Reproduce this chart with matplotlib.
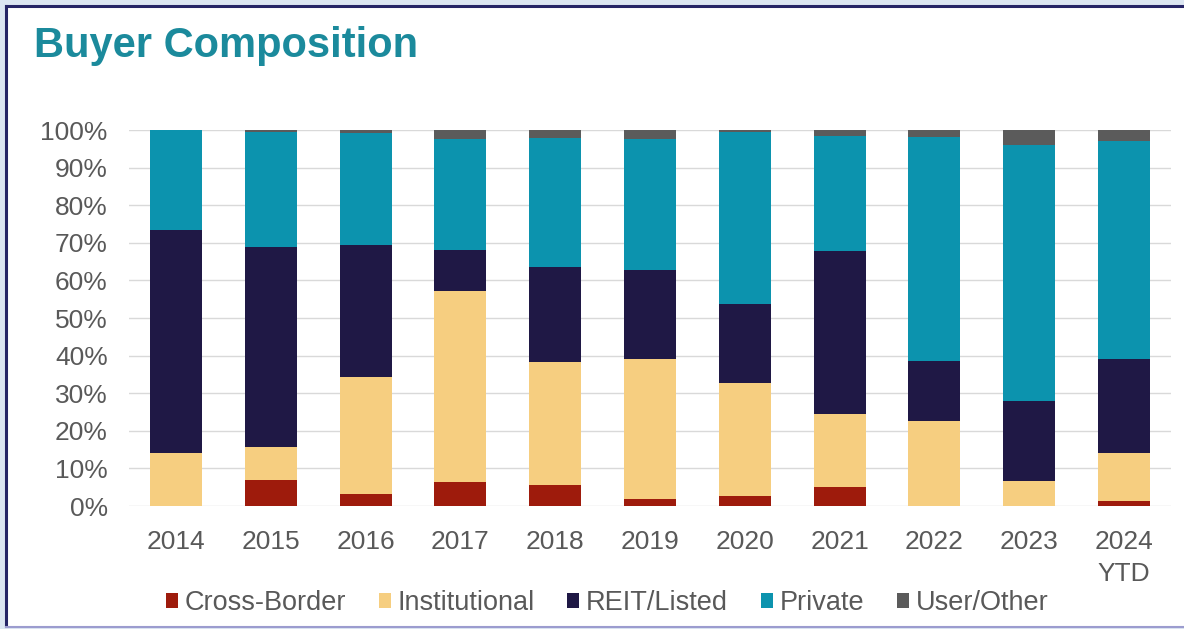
import numpy as np
import matplotlib
matplotlib.use("Agg")
import matplotlib.pyplot as plt
from matplotlib.patches import Patch, Rectangle
from matplotlib.lines import Line2D
from matplotlib.ticker import PercentFormatter

plt.rcParams['font.family'] = ['Liberation Sans', 'DejaVu Sans']

# share of deal volume by buyer type (%)
years = ['2014', '2015', '2016', '2017', '2018', '2019', '2020', '2021', '2022', '2023', '2024\nYTD']
cross_border = [0.0, 6.9, 3.2, 6.3, 5.6, 1.8, 2.7, 5.1, 0.0, 0.0, 1.4]
institutional = [14.0, 8.9, 31.0, 50.9, 32.8, 37.2, 29.9, 19.3, 22.6, 6.7, 12.8]
reit_listed = [59.4, 53.2, 35.3, 10.9, 25.1, 23.8, 21.1, 43.4, 16.0, 21.2, 25.0]
private = [26.6, 30.4, 29.6, 29.4, 34.3, 34.8, 45.9, 30.6, 59.6, 68.1, 58.0]
user_other = [0.0, 0.6, 0.9, 2.5, 2.2, 2.4, 0.4, 1.6, 1.8, 4.0, 2.8]

series = [
    ('Cross-Border', cross_border, '#9E1B0C'),
    ('Institutional', institutional, '#F6CE80'),
    ('REIT/Listed', reit_listed, '#1F1845'),
    ('Private', private, '#0C93AE'),
    ('User/Other', user_other, '#5B5B5B'),
]

W, H = 1184, 629
fig = plt.figure(figsize=(W / 100, H / 100), dpi=100, facecolor='#DCE6F2')

# white card with a navy frame
fig.patches.append(Rectangle((6 / W, 1 - 626 / H), 1.2, (626 - 6) / H,
                             transform=fig.transFigure, facecolor='white',
                             edgecolor='none', zorder=-10))
fig.add_artist(Line2D([6 / W, 1], [1 - 6 / H] * 2, color='#262566', lw=2.2,
                      transform=fig.transFigure))
fig.add_artist(Line2D([6 / W] * 2, [1 - 6 / H, 1 - 626 / H], color='#262566', lw=2.2,
                      transform=fig.transFigure))
fig.add_artist(Line2D([6 / W, 1], [1 - 627 / H] * 2, color='#9C9CCF', lw=1.5,
                      transform=fig.transFigure))

ax = fig.add_axes([128.6 / W, 1 - 506 / H, (1171.4 - 128.6) / W, (506 - 130) / H])
ax.set_facecolor('white')

x = np.arange(len(years))
bottom = np.zeros(len(years))
for name, vals, col in series:
    ax.bar(x, vals, width=0.55, bottom=bottom, color=col, label=name, zorder=3)
    bottom += np.array(vals)

ax.set_xlim(-0.5, len(years) - 0.5)
ax.set_ylim(0, 100)
ax.set_yticks(np.arange(0, 101, 10))
ax.yaxis.set_major_formatter(PercentFormatter(decimals=0))
ax.set_xticks(x)
ax.set_xticklabels(years, linespacing=1.45)
ax.grid(axis='y', color='#D9D9D9', lw=1, zorder=0)
for s in ax.spines.values():
    s.set_visible(False)
ax.tick_params(axis='both', length=0, labelsize=19, labelcolor='#595959')
ax.tick_params(axis='y', pad=15)
ax.tick_params(axis='x', pad=17)

fig.text(34 / W, 1 - 57 / H, 'Buyer Composition', fontsize=30, fontweight='bold',
         color='#1B8A9C', ha='left', va='baseline')

handles = [Patch(facecolor=c, edgecolor='none', label=n) for n, _, c in series]
fig.legend(handles=handles, loc='center', bbox_to_anchor=(607 / W, 1 - 603 / H),
           ncol=5, frameon=False, fontsize=19.5, labelcolor='#595959',
           handlelength=0.45, handleheight=0.45, handletextpad=0.25,
           columnspacing=1.2)

fig.savefig('out.png', dpi=100, facecolor=fig.get_facecolor())
